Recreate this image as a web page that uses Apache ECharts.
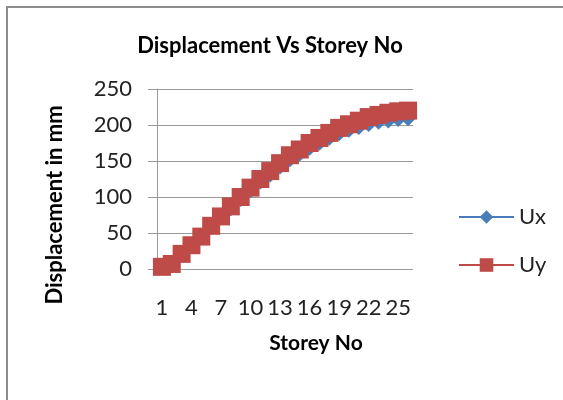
<!DOCTYPE html>
<html>
<head>
<meta charset="utf-8">
<script src="https://cdn.jsdelivr.net/npm/echarts@6/dist/echarts.min.js"></script>
<style>
  html, body { margin: 0; padding: 0; background: #fff; }
  #box { position: absolute; left: 6px; top: 6px; width: 580px; height: 420px; border-left: 2px solid #8c8c8c; border-top: 2px solid #8c8c8c; }
  #main { position: absolute; left: 0; top: 0; width: 563px; height: 400px; }
</style>
</head>
<body>
<div id="box"></div>
<div id="main"></div>
<script>
// storey numbers and displacements (mm)
var storeys = [];
for (var i = 1; i <= 26; i++) storeys.push(String(i));
var ux = [2, 7, 19, 31, 43, 57, 70, 83, 96, 108, 120, 130, 141, 151, 159, 167, 174, 181, 187, 192, 196, 200, 203, 205, 207, 208];
var uy = [3, 7, 21, 33, 45, 60, 73, 87, 100, 113, 125, 136, 147, 158, 166, 175, 182, 189, 196, 201, 206, 211, 214, 217, 219, 220];

var font = 'Lato, "Open Sans", sans-serif';

var myChart = echarts.init(document.getElementById('main'));
var option = {
    animation: false,
    title: {
        text: 'Displacement Vs Storey No',
        left: 265,
        top: 30,
        textAlign: 'center',
        textStyle: { fontFamily: font, fontSize: 22, fontWeight: 'bold', color: '#000' }
    },
    legend: {
        orient: 'vertical',
        left: 453,
        top: 201,
        itemWidth: 55,
        itemHeight: 17,
        itemGap: 26,
        textStyle: { fontFamily: font, fontSize: 22, color: '#222' },
        data: ['Ux', 'Uy']
    },
    grid: { left: 157, top: 89, width: 256, height: 180 },
    xAxis: {
        type: 'category',
        data: storeys,
        boundaryGap: true,
        axisLine: { show: false },
        axisTick: { show: false },
        axisLabel: { interval: 2, margin: 28, fontFamily: font, fontSize: 22, color: '#222' },
        name: 'Storey No',
        nameLocation: 'middle',
        nameGap: 64,
        nameTextStyle: { fontFamily: font, fontSize: 21, fontWeight: 'bold', color: '#000', padding: [0, 0, 0, 62] }
    },
    yAxis: {
        type: 'value',
        min: 0,
        max: 250,
        interval: 50,
        axisLine: { show: true, lineStyle: { color: '#999', width: 1 } },
        axisTick: { show: true, length: 9, lineStyle: { color: '#999' } },
        axisLabel: { margin: 25, fontFamily: font, fontSize: 22, color: '#222' },
        splitLine: { lineStyle: { color: '#9a9a9a', width: 1 } }
    },
    graphic: [{
        type: 'text',
        x: 55,
        y: 205,
        rotation: Math.PI / 2,
        style: {
            text: 'Displacement in mm',
            fontFamily: font,
            fontSize: 22,
            fontWeight: 'bold',
            fill: '#000',
            align: 'center',
            verticalAlign: 'middle'
        }
    }],
    series: [
        {
            name: 'Ux',
            type: 'line',
            data: ux,
            symbol: 'diamond',
            symbolSize: 14,
            showAllSymbol: true,
            lineStyle: { color: '#4A7EBB', width: 3 },
            itemStyle: { color: '#4A7EBB' }
        },
        {
            name: 'Uy',
            type: 'line',
            data: uy,
            symbol: 'rect',
            symbolSize: 18,
            showAllSymbol: true,
            lineStyle: { color: '#BE4B48', width: 3 },
            itemStyle: { color: '#BE4B48' }
        }
    ]
};
myChart.setOption(option);
</script>
</body>
</html>
